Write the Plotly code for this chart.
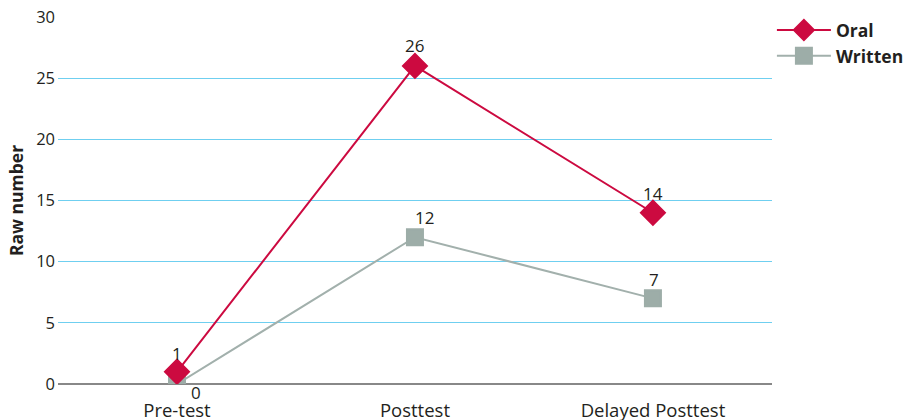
import plotly.graph_objects as go

# Categories and series values
stages = ["Pre-test", "Posttest", "Delayed Posttest"]
oral = [1, 26, 14]
written = [0, 12, 7]
y_ticks = [0, 5, 10, 15, 20, 25, 30]

RED = "#cc0a40"
GRAY_MARK = "#9dada8"
GRAY_LINE = "#a2b0ac"
GRID = "#6fcff0"
TEXT = "#231f20"
FONT = "Open Sans"

fig = go.Figure()

fig.add_trace(go.Scatter(
    x=stages, y=written, name="Written", mode="lines+markers",
    legendgroup="w", legendrank=2,
    line=dict(color=GRAY_LINE, width=2),
    marker=dict(symbol="square", size=16, color=GRAY_MARK,
                line=dict(color=GRAY_MARK, width=2)),
))
fig.add_trace(go.Scatter(
    x=stages, y=oral, name="Oral", mode="lines+markers",
    legendgroup="o", legendrank=1,
    line=dict(color=RED, width=2),
    marker=dict(symbol="diamond", size=19, color=RED,
                line=dict(color=RED, width=1.5)),
))

# value labels: (x shift, y shift) per point
oral_shift = [(0, 18), (0, 20), (0, 19)]
written_shift = [(19, -8), (10, 20), (1, 19)]
annotations = []
for vals, shifts in ((oral, oral_shift), (written, written_shift)):
    for cat, v, (dx, dy) in zip(stages, vals, shifts):
        annotations.append(dict(
            x=cat, y=v, text=str(v), showarrow=False,
            xshift=dx, yshift=dy,
            font=dict(family=FONT, size=17, color=TEXT),
        ))

fig.update_layout(
    width=906, height=420,
    margin=dict(l=58, r=133, t=17, b=36),
    paper_bgcolor="white", plot_bgcolor="white",
    font=dict(family=FONT, size=15, color=TEXT),
    showlegend=True,
    legend=dict(
        xref="container", yref="container",
        x=0.852, xanchor="left", y=0.971, yanchor="top",
        traceorder="grouped",
        font=dict(family=FONT, size=17.5, color=TEXT, weight="bold"),
        itemwidth=54, tracegroupgap=0,
    ),
    annotations=annotations,
)
fig.update_xaxes(
    type="category", range=[-0.5, 2.5],
    showgrid=False, showline=False, zeroline=False,
    ticks="", tickfont=dict(family=FONT, size=18.5, color=TEXT),
    ticklabelstandoff=13, automargin=False,
)
fig.update_yaxes(
    range=[0, 30], tickvals=y_ticks,
    showgrid=True, gridcolor=GRID, gridwidth=1.2,
    zeroline=True, zerolinecolor="#888888", zerolinewidth=1.5,
    showline=False, ticks="", ticklabelstandoff=2, automargin=False,
    tickfont=dict(family=FONT, size=16.5, color=TEXT),
    title=dict(text="Raw number", font=dict(family=FONT, size=17.5, color=TEXT, weight="bold"),
               standoff=8),
)

fig.write_html("out.html")
